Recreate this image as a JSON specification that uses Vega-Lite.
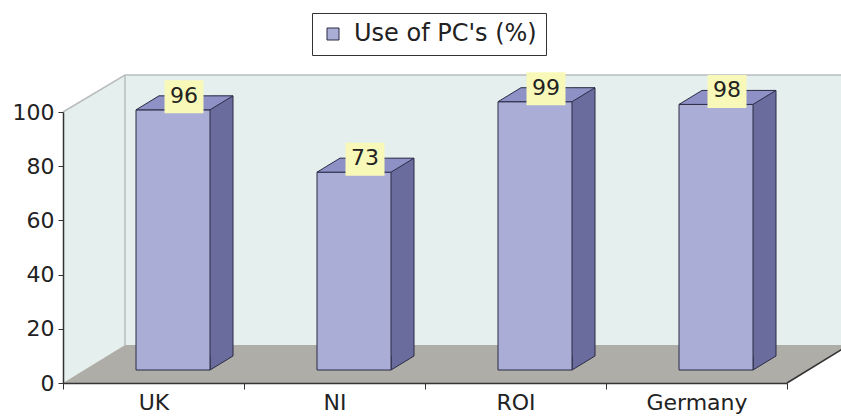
{
  "$schema": "https://vega.github.io/schema/vega-lite/v6.json",
  "width": 724,
  "height": 271,
  "autosize": "none",
  "padding": {"left": 63, "top": 112, "right": 54, "bottom": 33},
  "background": "white",
  "config": {
    "font": "DejaVu Sans",
    "view": {"stroke": null}
  },
  "data": {
    "values": [
      {"country": "UK", "value": 96, "series": "Use of PC's (%)"},
      {"country": "NI", "value": 73, "series": "Use of PC's (%)"},
      {"country": "ROI", "value": 99, "series": "Use of PC's (%)"},
      {"country": "Germany", "value": 98, "series": "Use of PC's (%)"}
    ]
  },
  "encoding": {
    "x": {
      "field": "country",
      "type": "nominal",
      "scale": {"domain": ["UK", "NI", "ROI", "Germany"], "paddingInner": 0, "paddingOuter": 0},
      "axis": {
        "title": null,
        "zindex": 1,
        "labelAngle": 0,
        "labelFont": "DejaVu Sans",
        "labelFontSize": 22,
        "labelColor": "#222222",
        "labelPadding": 3,
        "tickBand": "extent",
        "tickSize": 6,
        "tickColor": "#333333",
        "domainColor": "#333333",
        "domainWidth": 1.5
      }
    },
    "y": {
      "field": "value",
      "type": "quantitative",
      "scale": {"domain": [0, 100], "nice": false},
      "axis": {
        "title": null,
        "zindex": 1,
        "grid": false,
        "values": [0, 20, 40, 60, 80, 100],
        "labelFont": "DejaVu Sans",
        "labelFontSize": 22,
        "labelColor": "#222222",
        "labelPadding": 4,
        "tickSize": 5,
        "tickColor": "#333333",
        "domainColor": "#333333",
        "domainWidth": 1.5
      }
    }
  },
  "layer": [
    {
      "description": "back and side walls of the 3-D box, anchored at the first category",
      "transform": [{"filter": "datum.country === 'UK'"}],
      "mark": {
        "type": "point",
        "shape": "M-90.5,0 L-90.5,-271 L-28.5,-308 L706.5,-308 L706.5,-38 L-28.5,-38 Z",
        "size": 4,
        "filled": true,
        "fill": "#e5efed",
        "strokeWidth": 0,
        "opacity": 1
      },
      "encoding": {
        "y": {"datum": 0, "type": "quantitative"}
      }
    },
    {
      "description": "floor",
      "transform": [{"filter": "datum.country === 'UK'"}],
      "mark": {
        "type": "point",
        "shape": "M-90.5,0 L-28.5,-38 L695.5,-38 L633.5,0 Z",
        "size": 4,
        "filled": true,
        "fill": "#aeada7",
        "strokeWidth": 0,
        "opacity": 1
      },
      "encoding": {
        "y": {"datum": 0, "type": "quantitative"}
      }
    },
    {
      "description": "wall edges",
      "transform": [{"filter": "datum.country === 'UK'"}],
      "mark": {
        "type": "point",
        "shape": "M-90.5,-271 L-28.5,-308 L706.5,-308 M-28.5,-308 L-28.5,-38",
        "size": 4,
        "filled": false,
        "stroke": "#b9bdbd",
        "strokeWidth": 1.5,
        "opacity": 1
      },
      "encoding": {
        "y": {"datum": 0, "type": "quantitative"}
      }
    },
    {
      "description": "right edge of the floor",
      "transform": [{"filter": "datum.country === 'UK'"}],
      "mark": {
        "type": "point",
        "shape": "M633.5,0 L695.5,-38",
        "size": 4,
        "filled": false,
        "stroke": "#333333",
        "strokeWidth": 1.5,
        "opacity": 1
      },
      "encoding": {
        "y": {"datum": 0, "type": "quantitative"}
      }
    },
    {
      "description": "side face of each column",
      "mark": {
        "type": "bar",
        "width": 23,
        "xOffset": 68,
        "yOffset": -27,
        "y2Offset": -27,
        "color": "#6a6c9e",
        "opacity": 1
      }
    },
    {
      "description": "lower corner of the side face",
      "mark": {
        "type": "point",
        "shape": "M56.5,-27 L56.5,-13 L79.5,-27",
        "size": 4,
        "filled": true,
        "fill": "#6a6c9e",
        "stroke": "#2b2b45",
        "strokeWidth": 1,
        "opacity": 1
      },
      "encoding": {
        "y": {"datum": 0, "type": "quantitative"}
      }
    },
    {
      "description": "front face of each column",
      "mark": {
        "type": "bar",
        "width": 74,
        "xOffset": 19.5,
        "yOffset": -13,
        "y2Offset": -13,
        "stroke": "#2b2b45",
        "strokeWidth": 1,
        "opacity": 1
      },
      "encoding": {
        "color": {
          "field": "series",
          "type": "nominal",
          "scale": {"range": ["#aaaed6"]},
          "legend": {
            "title": null,
            "orient": "none",
            "legendX": 249,
            "legendY": -99,
            "padding": 9,
            "strokeColor": "#333333",
            "symbolType": "square",
            "symbolSize": 144,
            "symbolStrokeColor": "#2b2b45",
            "symbolStrokeWidth": 1,
            "labelFont": "DejaVu Sans",
            "labelFontSize": 24,
            "labelLimit": 400,
            "labelColor": "#222222",
            "labelOffset": 9
          }
        }
      }
    },
    {
      "description": "top face of each column",
      "mark": {
        "type": "point",
        "shape": "M-17.5,-13 L5.5,-27 L79.5,-27 L56.5,-13 Z",
        "size": 4,
        "filled": true,
        "fill": "#8e91c5",
        "stroke": "#2b2b45",
        "strokeWidth": 1,
        "opacity": 1
      }
    },
    {
      "description": "back vertical edge of the side face",
      "mark": {
        "type": "rule",
        "xOffset": 79.5,
        "yOffset": -27,
        "y2Offset": -27,
        "stroke": "#2b2b45",
        "strokeWidth": 1
      },
      "encoding": {
        "y2": {"datum": 0}
      }
    },
    {
      "description": "value label background",
      "mark": {
        "type": "point",
        "shape": "M-19.5,-16.5 H19.5 V16.5 H-19.5 Z",
        "size": 4,
        "filled": true,
        "fill": "#f8f8b9",
        "strokeWidth": 0,
        "xOffset": 30.5,
        "yOffset": -26,
        "opacity": 1
      }
    },
    {
      "description": "value labels",
      "mark": {
        "type": "text",
        "xOffset": 30.5,
        "yOffset": -27,
        "align": "center",
        "baseline": "middle",
        "font": "DejaVu Sans",
        "fontSize": 22,
        "color": "#222222"
      },
      "encoding": {
        "text": {"field": "value", "type": "quantitative"}
      }
    }
  ]
}
